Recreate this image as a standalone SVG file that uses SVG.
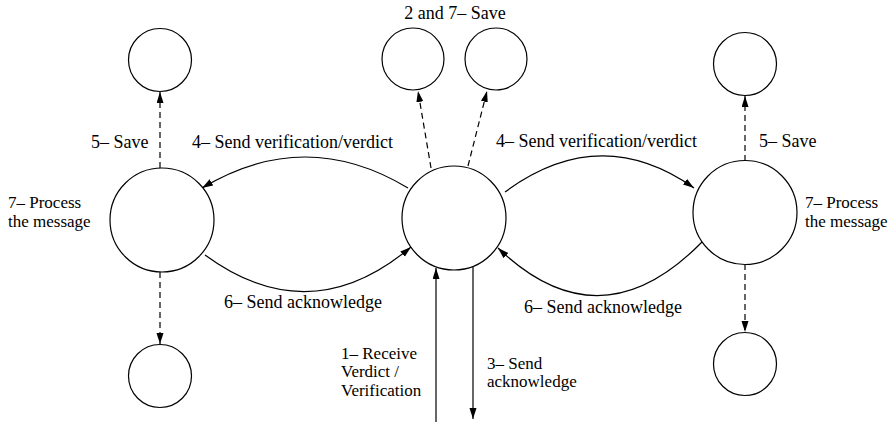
<svg xmlns="http://www.w3.org/2000/svg" width="895" height="422" viewBox="0 0 895 422">
  <style>
    .node { fill: #fff; stroke: #000; stroke-width: 1.2; }
    .edge { fill: none; stroke: #000; stroke-width: 1.2; }
    .dash { stroke-dasharray: 6 4; }
    .lbl { font-family: 'Liberation Serif', 'DejaVu Serif', serif; font-size: 18px; fill: #000; }
    .ml { font-size: 17px; }
  </style>
  <defs>
    <marker id="arrow" markerUnits="userSpaceOnUse" markerWidth="12" markerHeight="8" refX="11" refY="3.5" orient="auto">
      <path d="M0,0 L11,3.5 L0,7 z" fill="#000"/>
    </marker>
  </defs>

  <rect width="895" height="422" fill="#fff"/>

  <!-- connectors -->
  <g id="connectors">
    <!-- save links (dashed) -->
    <path class="edge dash" d="M160,168 L160,92" marker-end="url(#arrow)"/>
    <path class="edge dash" d="M160,272 L160,344" marker-end="url(#arrow)"/>
    <path class="edge dash" d="M745,161 L745,96" marker-end="url(#arrow)"/>
    <path class="edge dash" d="M745,264 L745,332" marker-end="url(#arrow)"/>
    <path class="edge dash" d="M431,168 L418,91" marker-end="url(#arrow)"/>
    <path class="edge dash" d="M468,166 L487,91" marker-end="url(#arrow)"/>
    <!-- send verification/verdict -->
    <path class="edge" d="M408,188 Q305,126 202,188" marker-end="url(#arrow)"/>
    <path class="edge" d="M505,192 Q600,122 694,188" marker-end="url(#arrow)"/>
    <!-- send acknowledge -->
    <path class="edge" d="M205,255 Q310,332 411,247" marker-end="url(#arrow)"/>
    <path class="edge" d="M702,242 Q600,346 498,248" marker-end="url(#arrow)"/>
    <!-- external in / out -->
    <path class="edge" d="M436,422 L436,268" marker-end="url(#arrow)"/>
    <path class="edge" d="M473,267 L473,419" marker-end="url(#arrow)"/>
  </g>

  <!-- nodes -->
  <g id="center"><circle class="node" cx="454" cy="218" r="52"/></g>
  <g id="left"><circle class="node" cx="162" cy="220" r="52"/></g>
  <g id="right"><circle class="node" cx="745" cy="212.5" r="52"/></g>
  <g id="left-store-top"><circle class="node" cx="160" cy="60" r="31.5"/></g>
  <g id="left-store-bottom"><circle class="node" cx="160" cy="376" r="31.5"/></g>
  <g id="right-store-top"><circle class="node" cx="745" cy="64" r="31.5"/></g>
  <g id="right-store-bottom"><circle class="node" cx="745" cy="364" r="31.5"/></g>
  <g id="center-store-a"><circle class="node" cx="413" cy="59" r="31"/></g>
  <g id="center-store-b"><circle class="node" cx="496" cy="59" r="31"/></g>

  <!-- labels -->
  <g id="labels">
    <text class="lbl" x="455" y="19" text-anchor="middle">2 and 7– Save</text>
    <text class="lbl" x="192" y="148">4– Send verification/verdict</text>
    <text class="lbl" x="91" y="148">5– Save</text>
    <text class="lbl ml" x="8" y="208">7– Process</text>
    <text class="lbl ml" x="8" y="227">the message</text>
    <text class="lbl" x="224" y="308">6– Send acknowledge</text>
    <text class="lbl" x="496" y="147">4– Send verification/verdict</text>
    <text class="lbl" x="759" y="147">5– Save</text>
    <text class="lbl ml" x="805" y="208">7– Process</text>
    <text class="lbl ml" x="805" y="227">the message</text>
    <text class="lbl" x="524" y="313">6– Send acknowledge</text>
    <text class="lbl ml" x="341" y="359">1– Receive</text>
    <text class="lbl ml" x="341" y="377">Verdict /</text>
    <text class="lbl ml" x="341" y="396">Verification</text>
    <text class="lbl ml" x="487" y="369">3– Send</text>
    <text class="lbl ml" x="487" y="387">acknowledge</text>
  </g>
</svg>
